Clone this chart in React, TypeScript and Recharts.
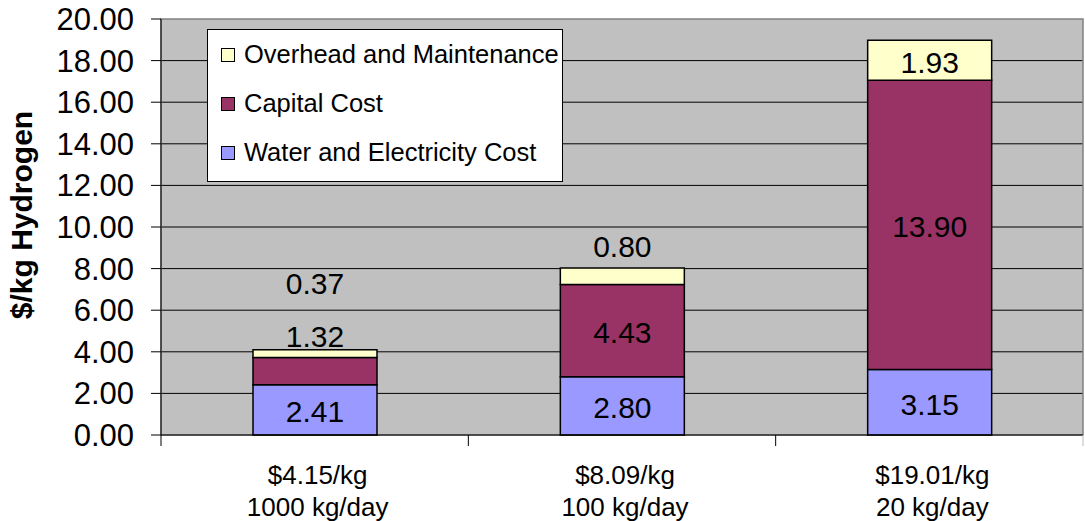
import {
  Bar,
  BarChart,
  CartesianGrid,
  LabelList,
  Legend,
  ReferenceArea,
  XAxis,
  YAxis,
} from "recharts";

const costLabels = ["$4.15/kg", "$8.09/kg", "$19.01/kg"];
const capacityLabels = ["1000 kg/day", "100 kg/day", "20 kg/day"];
const waterCost = [2.41, 2.8, 3.15];
const capitalCost = [1.32, 4.43, 13.9];
const overheadCost = [0.37, 0.8, 1.93];
const yTicks = [0, 2, 4, 6, 8, 10, 12, 14, 16, 18, 20];
const legendOrder = ["Overhead and Maintenance", "Capital Cost", "Water and Electricity Cost"];

const data = costLabels.map((cost, i) => ({
  name: cost,
  capacity: capacityLabels[i],
  water: waterCost[i],
  capital: capitalCost[i],
  overhead: overheadCost[i],
}));

const FONT = "'Liberation Sans', Arial, sans-serif";
const PLOT_LEFT = 161;
const PLOT_RIGHT = 1083;
const PLOT_TOP = 19.5;
const PLOT_BOTTOM = 435;
const PX_PER_UNIT = (PLOT_BOTTOM - PLOT_TOP) / 20;
const BAND = (PLOT_RIGHT - PLOT_LEFT) / data.length;
const FITS = 30; // px a segment needs to hold its label

const labelText = (x: number, y: number, value: number) => (
  <text
    x={x}
    y={y}
    textAnchor="middle"
    dominantBaseline="central"
    fontFamily={FONT}
    fontSize={30}
    fill="#000"
  >
    {Number(value).toFixed(2)}
  </text>
);

const CenteredLabel = (props: any) => {
  const { x, y, width, height, value } = props;
  return labelText(x + width / 2, y + height / 2 + 2, value);
};

const CapitalLabel = (props: any) => {
  const { x, y, width, height, value, index } = props;
  if (height >= FITS) return labelText(x + width / 2, y + height / 2 + 2, value);
  const top = y - overheadCost[index] * PX_PER_UNIT;
  return labelText(x + width / 2, top - 13, value);
};

const OverheadLabel = (props: any) => {
  const { x, y, width, height, value, index } = props;
  if (height >= FITS) return labelText(x + width / 2, y + height / 2 + 2, value);
  const capitalLifted = capitalCost[index] * PX_PER_UNIT < FITS;
  return labelText(x + width / 2, y - (capitalLifted ? 66 : 21), value);
};

const CategoryTick = (props: any) => {
  const { x, y, index, payload } = props;
  const last = index === data.length - 1;
  return (
    <g>
      <line x1={x - BAND / 2} y1={y} x2={x - BAND / 2} y2={y + 11} stroke="#000" />
      {last && (
        <line x1={x + BAND / 2} y1={y} x2={x + BAND / 2} y2={y + 11} stroke="#bbb" />
      )}
      <text textAnchor="middle" fontFamily={FONT} fontSize={26} fill="#000">
        <tspan x={x + 3} y={y + 49}>
          {payload.value}
        </tspan>
        <tspan x={x + 3} y={y + 81}>
          {capacityLabels[index]}
        </tspan>
      </text>
    </g>
  );
};

const LegendBox = (props: any) => {
  const items = [...(props.payload || [])].sort(
    (a: any, b: any) => legendOrder.indexOf(a.value) - legendOrder.indexOf(b.value)
  );
  return (
    <div
      style={{
        width: 356,
        height: 153,
        boxSizing: "border-box",
        background: "#fff",
        border: "1px solid #000",
        padding: "0 0 0 13px",
        fontFamily: FONT,
        fontSize: 25.5,
        color: "#000",
      }}
    >
      {items.map((item: any) => (
        <div
          key={item.value}
          style={{ display: "flex", alignItems: "center", height: 49 }}
        >
          <span
            style={{
              width: 12,
              height: 12,
              background: item.color,
              border: "1px solid #000",
              marginRight: 9,
            }}
          />
          {item.value}
        </div>
      ))}
    </div>
  );
};

const YTitle = () => {
  const cy = 215;
  return (
    <text
      x={21}
      y={cy}
      transform={`rotate(-90, 21, ${cy})`}
      textAnchor="middle"
      dominantBaseline="central"
      fontFamily={FONT}
      fontSize={30}
      fontWeight="bold"
      fill="#000"
    >
      $/kg Hydrogen
    </text>
  );
};

export default function App() {
  return (
    <div style={{ position: "absolute", left: 0, top: 0, background: "#fff" }}>
      <BarChart
        width={1085}
        height={521}
        data={data}
        margin={{ top: 19, right: 2, bottom: 0, left: 0 }}
        barSize={124}
      >
        <CartesianGrid
          vertical={false}
          horizontalValues={[2, 4, 6, 8, 10, 12, 14, 16, 18]}
          stroke="#000"
          fill="#C0C0C0"
          fillOpacity={1}
        />
        <ReferenceArea
          y1={0}
          y2={20}
          fill="none"
          stroke="#808080"
          strokeWidth={1.5}
          ifOverflow="visible"
        />
        <XAxis
          dataKey="name"
          height={86}
          stroke="#000"
          tickLine={false}
          tickSize={0}
          tickMargin={0}
          interval={0}
          tick={<CategoryTick />}
        />
        <YAxis
          width={161}
          domain={[0, 20]}
          ticks={yTicks}
          allowDecimals
          stroke="#000"
          tickSize={10}
          tickMargin={17}
          tickFormatter={(v: number) => v.toFixed(2)}
          tick={{ fill: "#000", fontFamily: FONT, fontSize: 31 }}
          label={<YTitle />}
        />
        <Legend
          layout="vertical"
          align="center"
          verticalAlign="middle"
          wrapperStyle={{ left: 207, top: 29, width: 356, height: 153 }}
          content={<LegendBox />}
        />
        <Bar
          dataKey="water"
          name="Water and Electricity Cost"
          stackId="cost"
          fill="#9999FF"
          stroke="#000"
          strokeWidth={1.5}
          isAnimationActive={false}
        >
          <LabelList dataKey="water" content={<CenteredLabel />} />
        </Bar>
        <Bar
          dataKey="capital"
          name="Capital Cost"
          stackId="cost"
          fill="#993366"
          stroke="#000"
          strokeWidth={1.5}
          isAnimationActive={false}
        >
          <LabelList dataKey="capital" content={<CapitalLabel />} />
        </Bar>
        <Bar
          dataKey="overhead"
          name="Overhead and Maintenance"
          stackId="cost"
          fill="#FFFFCC"
          stroke="#000"
          strokeWidth={1.5}
          isAnimationActive={false}
        >
          <LabelList dataKey="overhead" content={<OverheadLabel />} />
        </Bar>
      </BarChart>
    </div>
  );
}
